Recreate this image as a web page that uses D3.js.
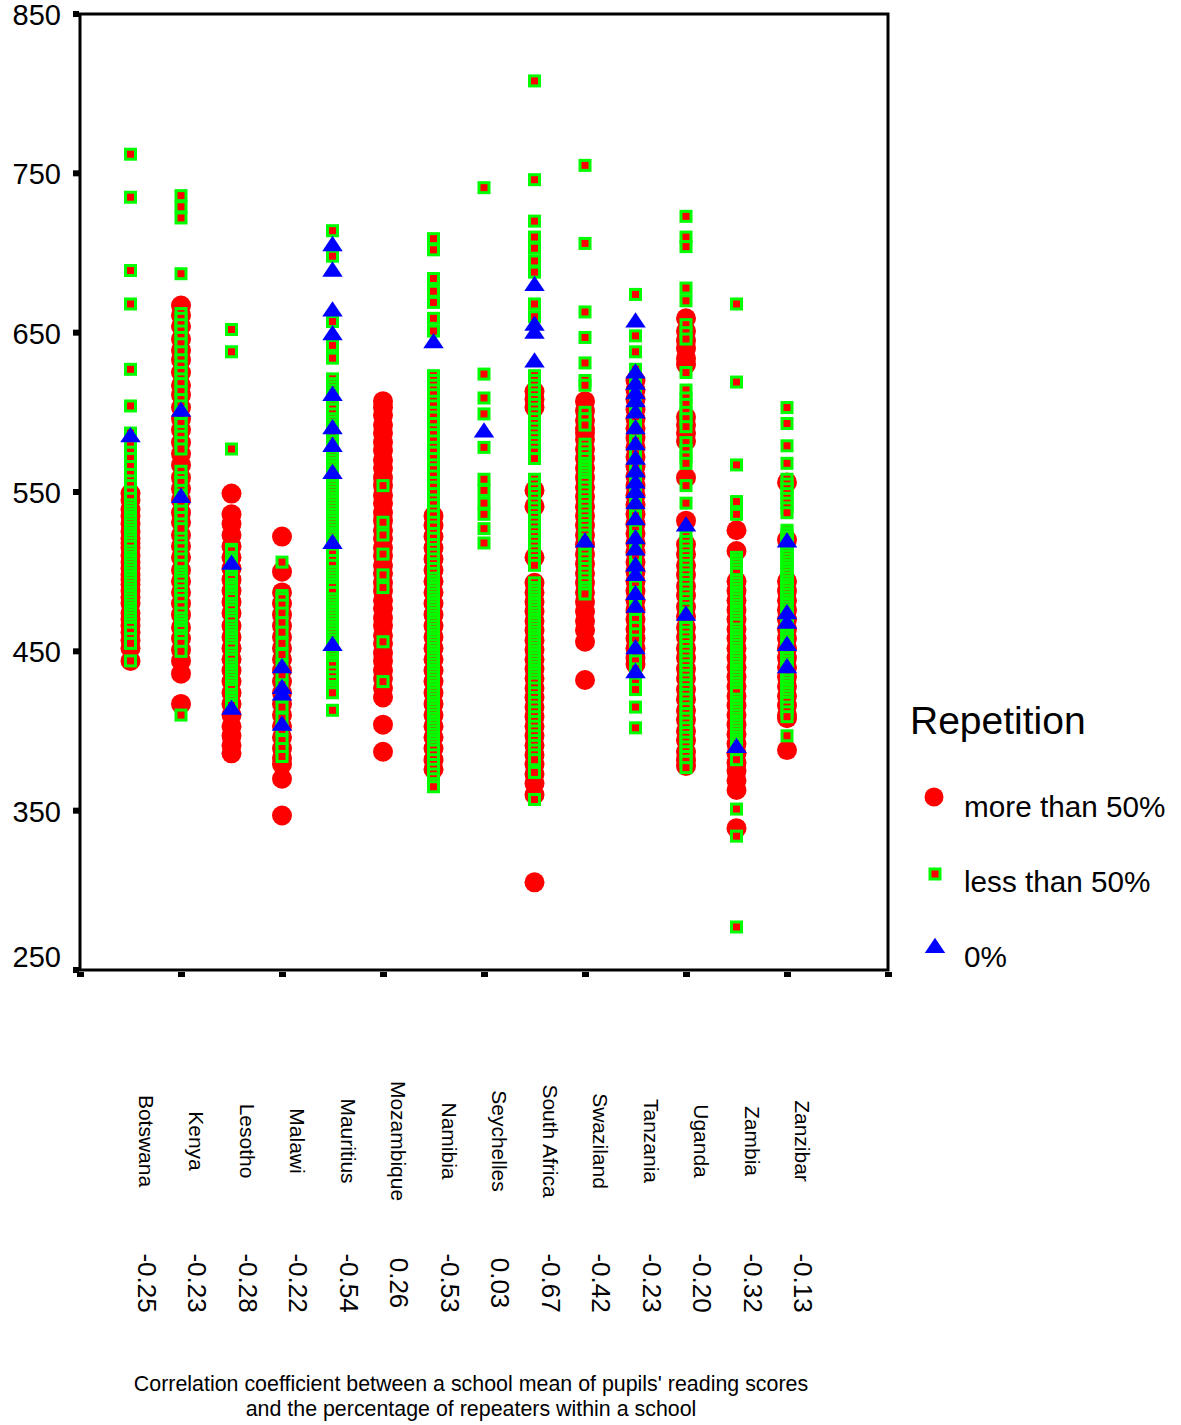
<!DOCTYPE html>
<meta charset="utf-8">
<script src="https://d3js.org/d3.v7.min.js"></script>
<style>
  body { margin: 0; background: #fff; }
  text { font-family: "Liberation Sans", Arial, sans-serif; fill: #000; }
</style>
<div id="chart"></div>
<script>
// countries along the x axis and their correlation coefficients
const countries = ["Botswana", "Kenya", "Lesotho", "Malawi", "Mauritius", "Mozambique", "Namibia",
  "Seychelles", "South Africa", "Swaziland", "Tanzania", "Uganda", "Zambia", "Zanzibar"];
const corr = ["-0.25", "-0.23", "-0.28", "-0.22", "-0.54", "0.26", "-0.53",
  "0.03", "-0.67", "-0.42", "-0.23", "-0.20", "-0.32", "-0.13"];
const yTicks = [250, 350, 450, 550, 650, 750, 850];

// school mean reading scores, one list per country
const moreThan50 = [
  [549, 545, 539, 535, 530, 525, 521, 518, 515, 510, 506, 502, 498, 495, 492, 488, 484, 480, 474, 470, 466, 462, 457, 452, 444],
  [667, 661, 654, 646, 639, 633, 625, 617, 611, 603, 596, 589, 581, 574, 567, 559, 552, 545, 537, 531, 523, 516, 509, 501, 494, 487, 480, 473, 465, 458, 451, 444, 436, 417],
  [549, 536, 530, 523, 516, 509, 502, 495, 488, 481, 474, 466, 459, 452, 445, 438, 431, 424, 417, 410, 403, 397, 391, 386],
  [522, 500, 487, 480, 473, 466, 459, 452, 445, 438, 431, 424, 417, 410, 403, 396, 389, 383, 379, 370, 347],
  [],
  [607, 603, 598, 592, 587, 581, 576, 570, 565, 559, 554, 548, 543, 537, 532, 526, 521, 515, 510, 504, 499, 493, 488, 482, 477, 471, 466, 460, 455, 449, 444, 438, 433, 427, 421, 404, 387],
  [535, 529, 522, 515, 508, 501, 494, 487, 480, 473, 466, 459, 452, 445, 438, 431, 424, 417, 410, 403, 396, 389, 382, 376],
  [],
  [613, 608, 603, 551, 541, 509, 493, 487, 481, 475, 469, 463, 457, 451, 445, 439, 433, 427, 421, 415, 409, 403, 397, 391, 385, 379, 373, 367, 360, 305],
  [607, 601, 595, 590, 587, 583, 577, 571, 565, 559, 553, 547, 541, 535, 529, 523, 517, 511, 505, 499, 493, 487, 481, 475, 469, 463, 456, 432],
  [620, 614, 608, 602, 596, 590, 584, 578, 572, 566, 560, 554, 548, 542, 536, 530, 524, 518, 512, 506, 500, 494, 488, 482, 476, 470, 464, 458, 452, 446, 442],
  [659, 651, 645, 640, 634, 630, 597, 592, 587, 582, 559, 532, 517, 511, 504, 498, 491, 485, 478, 472, 465, 459, 452, 446, 439, 433, 426, 420, 413, 407, 400, 394, 387, 382, 378],
  [526, 513, 494, 488, 482, 476, 470, 464, 458, 452, 446, 440, 434, 428, 422, 416, 410, 404, 398, 392, 386, 380, 375, 369, 363, 339],
  [556, 520, 494, 488, 482, 476, 470, 464, 458, 452, 446, 440, 434, 428, 422, 416, 410, 408, 388]
];
const lessThan50 = [
  [762, 735, 689, 668, 627, 604, 587, 583, 579, 575, 571, 566, 561, 557, 554, 550, 546, 542, 540, 538, 536, 534, 532, 530, 528, 526, 524, 522, 520, 518, 516, 513, 511, 509, 507, 505, 503, 501, 499, 497, 495, 493, 491, 489, 487, 485, 483, 481, 479, 477, 475, 473, 471, 469, 467, 465, 462, 458, 455, 444],
  [736, 729, 722, 687, 662, 659, 655, 651, 647, 643, 638, 633, 629, 625, 621, 618, 613, 608, 604, 600, 596, 593, 588, 585, 581, 577, 563, 559, 556, 551, 548, 545, 543, 541, 538, 534, 530, 527, 521, 518, 515, 511, 508, 504, 500, 498, 496, 494, 491, 488, 485, 482, 478, 474, 471, 469, 467, 465, 463, 460, 458, 455, 450, 410],
  [652, 638, 577, 514, 513, 509, 507, 505, 503, 501, 499, 497, 495, 492, 490, 488, 487, 485, 483, 480, 478, 476, 473, 471, 469, 466, 464, 462, 460, 458, 456, 454, 452, 449, 447, 445, 442, 440, 438, 436, 434, 432, 430, 428, 426, 423, 421, 419, 417, 416],
  [506, 485, 483, 479, 474, 468, 462, 455, 448, 441, 435, 429, 422, 415, 408, 401, 394, 389, 384],
  [714, 698, 657, 642, 634, 621, 618, 616, 614, 612, 610, 608, 606, 604, 602, 599, 596, 594, 592, 590, 588, 586, 584, 582, 580, 578, 576, 574, 572, 570, 568, 566, 564, 562, 560, 558, 556, 554, 552, 550, 548, 546, 544, 542, 540, 538, 536, 534, 532, 530, 528, 526, 524, 522, 520, 518, 516, 514, 511, 507, 504, 500, 498, 496, 494, 492, 490, 487, 483, 481, 479, 477, 475, 473, 471, 469, 467, 465, 463, 461, 459, 457, 455, 453, 451, 449, 447, 445, 443, 441, 437, 434, 431, 428, 426, 424, 413],
  [554, 531, 523, 511, 498, 490, 456, 431],
  [709, 702, 684, 676, 669, 659, 651, 623, 620, 617, 614, 611, 607, 604, 600, 597, 593, 589, 586, 582, 578, 575, 571, 567, 564, 560, 556, 553, 549, 545, 542, 538, 535, 531, 528, 524, 521, 517, 514, 511, 508, 505, 502, 499, 496, 494, 492, 490, 488, 486, 484, 482, 480, 478, 476, 474, 472, 470, 468, 466, 464, 462, 460, 458, 456, 454, 452, 450, 448, 446, 444, 442, 440, 438, 436, 434, 432, 430, 428, 426, 424, 422, 420, 418, 416, 414, 412, 410, 408, 406, 404, 402, 400, 398, 396, 394, 392, 390, 388, 385, 382, 379, 376, 373, 370, 367, 365],
  [741, 624, 609, 599, 578, 558, 551, 543, 536, 527, 518],
  [808, 746, 720, 710, 703, 695, 688, 668, 660, 623, 620, 617, 614, 611, 608, 605, 602, 599, 596, 593, 590, 587, 584, 581, 578, 575, 571, 558, 555, 552, 549, 546, 543, 540, 537, 534, 531, 528, 525, 522, 519, 516, 513, 510, 507, 504, 493, 490, 488, 486, 484, 482, 480, 478, 476, 474, 472, 470, 468, 466, 464, 462, 460, 458, 456, 454, 452, 450, 448, 446, 444, 442, 440, 438, 436, 434, 432, 430, 427, 424, 421, 418, 415, 412, 409, 406, 403, 400, 397, 394, 391, 388, 385, 382, 374, 357],
  [755, 706, 663, 647, 631, 620, 617, 600, 596, 592, 580, 577, 574, 571, 568, 566, 564, 562, 560, 558, 556, 553, 550, 547, 544, 541, 538, 535, 532, 529, 526, 523, 520, 517, 514, 511, 508, 505, 502, 499, 496, 493, 490, 488, 486],
  [674, 648, 638, 627, 622, 618, 613, 609, 604, 600, 596, 591, 587, 582, 578, 574, 569, 565, 561, 556, 552, 548, 543, 539, 535, 530, 526, 522, 517, 513, 509, 504, 500, 496, 491, 487, 483, 478, 474, 470, 465, 461, 457, 452, 448, 444, 439, 435, 430, 426, 415, 402],
  [723, 710, 704, 678, 670, 655, 650, 646, 625, 614, 609, 605, 600, 596, 591, 581, 576, 572, 568, 554, 543, 522, 519, 516, 513, 510, 507, 504, 501, 498, 495, 492, 489, 486, 483, 480, 477, 474, 471, 468, 465, 462, 459, 456, 453, 450, 447, 444, 441, 438, 435, 432, 429, 426, 423, 420, 417, 414, 411, 408, 405, 402, 399, 396, 393, 390, 387, 384, 381, 377],
  [668, 619, 567, 544, 536, 509, 507, 505, 503, 501, 499, 495, 493, 491, 489, 487, 485, 483, 481, 479, 477, 475, 473, 471, 469, 467, 464, 462, 460, 458, 456, 454, 452, 450, 448, 446, 444, 442, 440, 438, 436, 434, 432, 430, 428, 426, 424, 420, 418, 416, 414, 412, 410, 408, 406, 404, 402, 400, 398, 396, 394, 392, 390, 388, 386, 382, 351, 334, 277],
  [603, 593, 579, 568, 558, 555, 552, 549, 546, 543, 540, 537, 526, 524, 522, 520, 518, 516, 514, 512, 510, 508, 506, 504, 502, 500, 498, 496, 494, 492, 490, 488, 486, 484, 482, 480, 478, 476, 474, 472, 470, 468, 466, 464, 462, 460, 458, 456, 454, 452, 450, 448, 446, 444, 442, 440, 438, 436, 434, 432, 430, 428, 426, 424, 422, 420, 418, 415, 412, 409, 397]
];
const zeroPct = [
  [585],
  [601, 547],
  [505, 414],
  [440, 427, 423, 404],
  [705, 689, 664, 649, 611, 590, 579, 562, 518, 454],
  [],
  [644],
  [588],
  [680, 655, 650, 632],
  [519],
  [657, 625, 618, 612, 607, 600, 590, 580, 571, 563, 556, 550, 543, 533, 521, 514, 504, 498, 486, 478, 452, 437],
  [529, 473],
  [390],
  [519, 474, 468, 454, 440]
];

const margin = {left: 80, top: 14},
    plotW = 808, plotH = 956;

const svg = d3.select("#chart").append("svg")
    .attr("width", 1181)
    .attr("height", 1425);

const g = svg.append("g")
    .attr("transform", "translate(" + margin.left + "," + margin.top + ")");

// x: country i sits at position i+1 on a 0..16 scale
const x = d3.scaleLinear().domain([0, 16]).range([0, plotW]);
const y = d3.scaleLinear().domain([250, 850]).range([plotH, 0]);

function flat(groups) {
  const out = [];
  groups.forEach(function(vals, i) {
    vals.forEach(function(v) { out.push({i: i, v: v}); });
  });
  return out;
}

// y axis: square tick marks and labels
g.selectAll(".ytick").data(yTicks).enter().append("rect")
    .attr("x", -7).attr("y", d => y(d) - 3)
    .attr("width", 6).attr("height", 6)
    .attr("fill", "#000");
g.selectAll(".ylab").data(yTicks).enter().append("text")
    .attr("x", -19).attr("y", d => y(d) + (d === 250 ? -3 : 11))
    .attr("text-anchor", "end")
    .style("font-size", "29px")
    .text(d => d);

// x axis ticks
g.selectAll(".xtick").data(d3.range(0, 17, 2)).enter().append("rect")
    .attr("x", d => x(d) - 3).attr("y", plotH + 2)
    .attr("width", 7).attr("height", 5)
    .attr("fill", "#000");

// points: circles, then squares, then triangles
g.selectAll(".more").data(flat(moreThan50)).enter().append("circle")
    .attr("cx", d => x(d.i + 1)).attr("cy", d => y(d.v))
    .attr("r", 10).attr("fill", "#ff0000");

g.selectAll(".less").data(flat(lessThan50)).enter().append("rect")
    .attr("x", d => x(d.i + 1) - 5).attr("y", d => y(d.v) - 5)
    .attr("width", 10).attr("height", 10)
    .attr("fill", "#ff0000").attr("stroke", "#00ff00").attr("stroke-width", 3);

const tri = d3.symbol().type(d3.symbolTriangle).size(150);
g.selectAll(".zero").data(flat(zeroPct)).enter().append("path")
    .attr("transform", d => "translate(" + x(d.i + 1) + "," + (y(d.v) + 1) + ") scale(1.1,0.95)")
    .attr("d", tri)
    .attr("fill", "#0000ff");

// frame
g.append("rect")
    .attr("x", 0).attr("y", 0)
    .attr("width", plotW).attr("height", plotH)
    .attr("fill", "none").attr("stroke", "#000").attr("stroke-width", 3);

// country names and correlations, rotated
countries.forEach(function(c, i) {
  const cx = margin.left + x(i + 1) + 8;
  svg.append("text")
      .attr("transform", "translate(" + cx + ",1141) rotate(90)")
      .attr("text-anchor", "middle")
      .style("font-size", "21px")
      .text(c);
  svg.append("text")
      .attr("transform", "translate(" + (cx - 1) + ",1283) rotate(90)")
      .attr("text-anchor", "middle")
      .style("font-size", "26px")
      .text(corr[i]);
});

// footnote title
svg.append("text")
    .attr("x", 471).attr("y", 1391)
    .attr("text-anchor", "middle")
    .style("font-size", "21.4px")
    .text("Correlation coefficient between a school mean of pupils' reading scores");
svg.append("text")
    .attr("x", 471).attr("y", 1416)
    .attr("text-anchor", "middle")
    .style("font-size", "21.4px")
    .text("and the percentage of repeaters within a school");

// legend
svg.append("text")
    .attr("x", 910).attr("y", 734)
    .style("font-size", "39px")
    .text("Repetition");
svg.append("circle").attr("cx", 934).attr("cy", 797).attr("r", 9.5).attr("fill", "#ff0000");
svg.append("rect").attr("x", 930).attr("y", 869).attr("width", 10).attr("height", 10)
    .attr("fill", "#ff0000").attr("stroke", "#00ff00").attr("stroke-width", 3);
svg.append("path")
    .attr("transform", "translate(935,948) scale(1.1,0.95)")
    .attr("d", tri).attr("fill", "#0000ff");
const legendLabels = ["more than 50%", "less than 50%", "0%"];
const legendY = [817, 892, 967];
legendLabels.forEach(function(t, i) {
  svg.append("text")
      .attr("x", 964).attr("y", legendY[i])
      .style("font-size", "29.7px")
      .text(t);
});
</script>
